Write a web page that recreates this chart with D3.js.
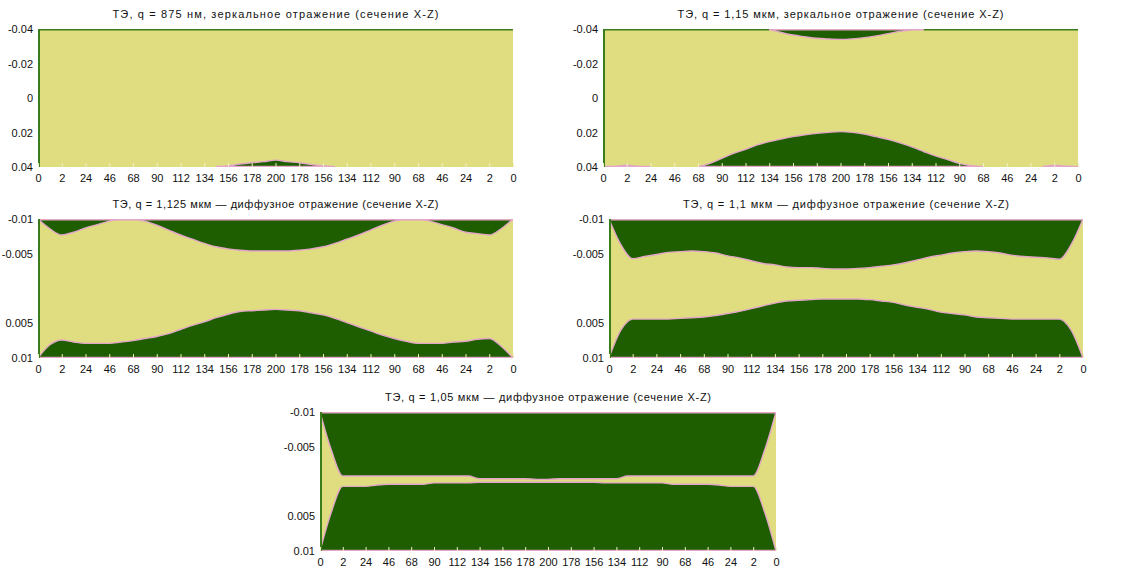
<!DOCTYPE html>
<html>
<head>
<meta charset="utf-8">
<script src="https://cdn.jsdelivr.net/npm/d3@7/dist/d3.min.js"></script>
<style>
  html, body { margin: 0; padding: 0; background: #ffffff; }
  svg { display: block; font-family: "Liberation Sans", Arial, sans-serif; }
</style>
</head>
<body>
<svg id="chart" width="1130" height="569"></svg>
<script>
// Column labels along the scan (out to the centre and back)
const xLabels = ["0","2","24","46","68","90","112","134","156","178","200",
                 "178","156","134","112","90","68","46","24","2","0"];

// Y-axis ticks
const yTicksWide = [-0.04, -0.02, 0, 0.02, 0.04];
const yLabelsWide = ["-0.04", "-0.02", "0", "0.02", "0.04"];
const yTicksNarrow = [-0.01, -0.005, 0.005, 0.01];
const yLabelsNarrow = ["-0.01", "-0.005", "0.005", "0.01"];

// Panel titles
const titles = [
  "ТЭ, q = 875 нм, зеркальное отражение (сечение X-Z)",
  "ТЭ, q = 1,15 мкм, зеркальное отражение (сечение X-Z)",
  "ТЭ, q = 1,125 мкм — диффузное отражение (сечение X-Z)",
  "ТЭ, q = 1,1 мкм — диффузное отражение (сечение X-Z)",
  "ТЭ, q = 1,05 мкм — диффузное отражение (сечение X-Z)"
];

// Boundary curves, sampled every half column (41 samples, 0 … 20)
const p1Upper = [-0.04,-0.04,-0.04,-0.04,-0.04,-0.04,-0.04,-0.04,-0.04,-0.04,
                 -0.04,-0.04,-0.04,-0.04,-0.04,-0.04,-0.04,-0.04,-0.04,-0.04,
                 -0.04,-0.04,-0.04,-0.04,-0.04,-0.04,-0.04,-0.04,-0.04,-0.04,
                 -0.04,-0.04,-0.04,-0.04,-0.04,-0.04,-0.04,-0.04,-0.04,-0.04,-0.04];
const p1Lower = [0.04,0.04,0.04,0.04,0.04,0.04,0.04,0.04,0.04,0.04,0.04,0.04,0.04,0.04,0.04,0.04,
                 0.0394,0.0383,0.0375,0.0369,0.0360,0.0369,0.0375,0.0385,0.0394,
                 0.04,0.04,0.04,0.04,0.04,0.04,0.04,0.04,0.04,0.04,0.04,0.04,0.04,0.04,0.04,0.04];

const p2Upper = [-0.04,-0.04,-0.04,-0.04,-0.04,-0.04,-0.04,-0.04,-0.04,-0.04,-0.04,-0.04,-0.04,-0.04,-0.04,
                 -0.0380,-0.0365,-0.0355,-0.0346,-0.0342,-0.0340,-0.0343,-0.0350,-0.0360,-0.0373,-0.0386,-0.0396,
                 -0.04,-0.04,-0.04,-0.04,-0.04,-0.04,-0.04,-0.04,-0.04,-0.04,-0.04,-0.04,-0.04,-0.04];
const p2Lower = [0.04,0.0397,0.0390,0.0397,0.04,0.04,0.04,0.04,0.04,
                 0.0379,0.0350,0.0321,0.0298,0.0272,0.0253,0.0238,0.0224,0.0213,0.0205,0.0199,0.0195,
                 0.0199,0.0209,0.0224,0.0240,0.0260,0.0283,0.0310,0.0336,0.0357,0.0379,0.0393,
                 0.04,0.04,0.04,0.04,0.04,0.04,0.0390,0.0396,0.04];

const p3Upper = [-0.0100,-0.0086,-0.0077,-0.0081,-0.0087,-0.0092,-0.0097,-0.0100,-0.0100,-0.0097,
                 -0.0091,-0.0084,-0.0077,-0.0071,-0.0065,-0.0060,-0.0057,-0.0055,-0.0054,-0.0054,
                 -0.0054,-0.0054,-0.0055,-0.0057,-0.0060,-0.0065,-0.0071,-0.0077,-0.0084,-0.0091,
                 -0.0097,-0.0100,-0.0100,-0.0097,-0.0092,-0.0087,-0.0081,-0.0079,-0.0077,-0.0086,-0.0100];
const p3Lower = [0.0100,0.0081,0.0074,0.0077,0.0079,0.0079,0.0079,0.0077,0.0075,0.0072,
                 0.0069,0.0065,0.0059,0.0053,0.0048,0.0042,0.0037,0.0033,0.0032,0.0031,
                 0.0030,0.0031,0.0032,0.0035,0.0038,0.0043,0.0049,0.0055,0.0061,0.0067,
                 0.0072,0.0076,0.0079,0.0079,0.0079,0.0077,0.0076,0.0073,0.0072,0.0083,0.0100];

const p4Upper = [-0.0100,-0.0063,-0.0043,-0.0046,-0.0049,-0.0052,-0.0053,-0.0054,-0.0053,-0.0051,
                 -0.0047,-0.0044,-0.0040,-0.0036,-0.0034,-0.0031,-0.0030,-0.0030,-0.0029,-0.0028,
                 -0.0028,-0.0029,-0.0030,-0.0032,-0.0034,-0.0037,-0.0041,-0.0045,-0.0048,-0.0051,
                 -0.0053,-0.0054,-0.0053,-0.0051,-0.0048,-0.0046,-0.0045,-0.0044,-0.0042,-0.0063,-0.0100];
const p4Lower = [0.0100,0.0060,0.0044,0.0044,0.0044,0.0044,0.0043,0.0042,0.0041,0.0039,
                 0.0036,0.0033,0.0029,0.0025,0.0021,0.0018,0.0017,0.0016,0.0015,0.0015,
                 0.0015,0.0015,0.0016,0.0018,0.0020,0.0024,0.0027,0.0030,0.0034,0.0036,
                 0.0038,0.0041,0.0042,0.0043,0.0044,0.0044,0.0044,0.0044,0.0044,0.0060,0.0100];

const p5Upper = [-0.0100,-0.0045,-0.0008,-0.0008,-0.0008,-0.0008,-0.0008,-0.0008,-0.0008,-0.0008,
                 -0.0008,-0.0008,-0.0008,-0.0008,-0.0004,-0.0004,-0.0004,-0.0004,-0.0004,-0.0003,
                 -0.0003,-0.0004,-0.0004,-0.0004,-0.0004,-0.0004,-0.0004,-0.0008,-0.0008,-0.0008,
                 -0.0008,-0.0008,-0.0008,-0.0008,-0.0008,-0.0008,-0.0008,-0.0008,-0.0008,-0.0045,-0.0100];
const p5Lower = [0.0100,0.0044,0.0007,0.0007,0.0007,0.0005,0.0004,0.0004,0.0004,0.0004,
                 0.0002,0.0002,0.0002,0.0002,0.0001,0.0001,0.0001,0.0001,0.0001,0.0001,
                 0.0001,0.0001,0.0001,0.0001,0.0001,0.0002,0.0002,0.0002,0.0002,0.0002,
                 0.0002,0.0004,0.0004,0.0004,0.0004,0.0005,0.0007,0.0007,0.0007,0.0044,0.0100];

// Sample positions along the column axis (every half column)
const samplePos = d3.range(0, 20.001, 0.5);

const COLORS = {
  field: "#dfdd80",
  band: "#1f5e00",
  edge: "#e3a6c8",
  frame: "#3a7d1c",
  tick: "#eef0c4",
  text: "#111111"
};
const FONT = "\"Liberation Sans\", Arial, sans-serif";

// Panel layout
const panels = [
  { title: titles[0], left: 38,  top: 29,  width: 475, height: 138, yDomain: [-0.04, 0.04],
    yTicks: yTicksWide, yLabels: yLabelsWide, upper: p1Upper, lower: p1Lower },
  { title: titles[1], left: 603, top: 29,  width: 475, height: 138, yDomain: [-0.04, 0.04],
    yTicks: yTicksWide, yLabels: yLabelsWide, upper: p2Upper, lower: p2Lower },
  { title: titles[2], left: 38,  top: 219, width: 475, height: 139, yDomain: [-0.01, 0.01],
    yTicks: yTicksNarrow, yLabels: yLabelsNarrow, upper: p3Upper, lower: p3Lower },
  { title: titles[3], left: 609, top: 219, width: 474, height: 139, yDomain: [-0.01, 0.01],
    yTicks: yTicksNarrow, yLabels: yLabelsNarrow, upper: p4Upper, lower: p4Lower },
  { title: titles[4], left: 320, top: 412, width: 456, height: 139, yDomain: [-0.01, 0.01],
    yTicks: yTicksNarrow, yLabels: yLabelsNarrow, upper: p5Upper, lower: p5Lower }
];

const svg = d3.select("#chart");

panels.forEach((p, pi) => {
  const g = svg.append("g").attr("transform", `translate(${p.left},${p.top})`);
  const x = d3.scaleLinear().domain([0, 20]).range([0, p.width]);
  const y = d3.scaleLinear().domain(p.yDomain).range([0, p.height]);
  const [yMin, yMax] = p.yDomain;

  const clipId = "clip" + pi;
  g.append("clipPath").attr("id", clipId)
    .append("rect").attr("width", p.width).attr("height", p.height);

  const plot = g.append("g").attr("clip-path", `url(#${clipId})`);

  // background field
  plot.append("rect")
    .attr("width", p.width).attr("height", p.height)
    .attr("fill", COLORS.field);

  const upperPts = samplePos.map((s, i) => ({ s, v: p.upper[i] }));
  const lowerPts = samplePos.map((s, i) => ({ s, v: p.lower[i] }));

  // upper dark band (from the top edge down to the upper boundary)
  plot.append("path")
    .datum(upperPts)
    .attr("fill", COLORS.band)
    .attr("d", d3.area()
      .curve(d3.curveMonotoneX)
      .x(d => x(d.s))
      .y0(y(yMin))
      .y1(d => y(d.v)));

  // lower dark band (from the lower boundary down to the bottom edge)
  plot.append("path")
    .datum(lowerPts)
    .attr("fill", COLORS.band)
    .attr("d", d3.area()
      .curve(d3.curveMonotoneX)
      .x(d => x(d.s))
      .y0(y(yMax))
      .y1(d => y(d.v)));

  // which samples border a band (band present here or next door)
  const activeMask = (pts, limit) => pts.map((d, i) => {
    const off = v => Math.abs(v - limit) > 1e-9;
    return off(d.v) || (i > 0 && off(pts[i - 1].v)) || (i < pts.length - 1 && off(pts[i + 1].v));
  });
  const upMask = activeMask(upperPts, yMin);
  const loMask = activeMask(lowerPts, yMax);

  const edgeLine = mask => d3.line()
    .curve(d3.curveMonotoneX)
    .defined((d, i) => mask[i])
    .x(d => x(d.s))
    .y(d => y(d.v));

  // band outlines: curved boundary
  plot.append("path")
    .datum(upperPts)
    .attr("fill", "none")
    .attr("stroke", COLORS.edge)
    .attr("stroke-width", 1.4)
    .attr("d", edgeLine(upMask));
  plot.append("path")
    .datum(lowerPts)
    .attr("fill", "none")
    .attr("stroke", COLORS.edge)
    .attr("stroke-width", 1.4)
    .attr("d", edgeLine(loMask));

  // frame: left edge
  g.append("line")
    .attr("x1", 1).attr("x2", 1).attr("y1", 0).attr("y2", p.height)
    .attr("stroke", COLORS.frame).attr("stroke-width", 2);

  // top edge: green where no band, outline colour where the band meets it
  g.append("path")
    .datum(upperPts)
    .attr("fill", "none")
    .attr("stroke", COLORS.frame)
    .attr("stroke-width", 1.5)
    .attr("d", d3.line()
      .defined((d, i) => !upMask[i] || (i > 0 && !upMask[i - 1]) || (i < upMask.length - 1 && !upMask[i + 1]))
      .x(d => x(d.s))
      .y(0.75));
  g.append("path")
    .datum(upperPts)
    .attr("fill", "none")
    .attr("stroke", COLORS.edge)
    .attr("stroke-width", 1.5)
    .attr("d", d3.line()
      .defined((d, i) => upMask[i])
      .x(d => Math.max(x(d.s), 2))
      .y(0.75));

  // bottom edge: outline colour only where the lower band meets it
  g.append("path")
    .datum(lowerPts)
    .attr("fill", "none")
    .attr("stroke", COLORS.edge)
    .attr("stroke-width", 1.3)
    .attr("d", d3.line()
      .defined((d, i) => loMask[i])
      .x(d => Math.max(x(d.s), 2))
      .y(p.height - 0.65));

  // bottom axis with inward ticks
  const xAxis = d3.axisBottom(x)
    .tickValues(d3.range(0, 21))
    .tickFormat(i => xLabels[i])
    .tickSize(-4)
    .tickPadding(7);
  const xa = g.append("g")
    .attr("transform", `translate(0,${p.height})`)
    .call(xAxis);
  xa.select(".domain").remove();
  xa.selectAll(".tick line").attr("stroke", COLORS.tick).attr("stroke-width", 1);
  xa.selectAll(".tick text")
    .attr("fill", COLORS.text)
    .style("font-size", "11px")
    .style("font-family", FONT);

  // left axis
  const yAxis = d3.axisLeft(y)
    .tickValues(p.yTicks)
    .tickFormat((d, i) => p.yLabels[i])
    .tickSize(0)
    .tickPadding(5);
  const ya = g.append("g").call(yAxis);
  ya.select(".domain").remove();
  ya.selectAll(".tick text")
    .attr("fill", COLORS.text)
    .style("font-size", "11px")
    .style("font-family", FONT);

  // title
  g.append("text")
    .attr("x", p.width / 2)
    .attr("y", -11)
    .attr("text-anchor", "middle")
    .attr("fill", COLORS.text)
    .style("font-size", "11px")
    .style("font-family", FONT)
    .attr("textLength", 326)
    .attr("lengthAdjust", "spacing")
    .text(p.title);
});
</script>
</body>
</html>
